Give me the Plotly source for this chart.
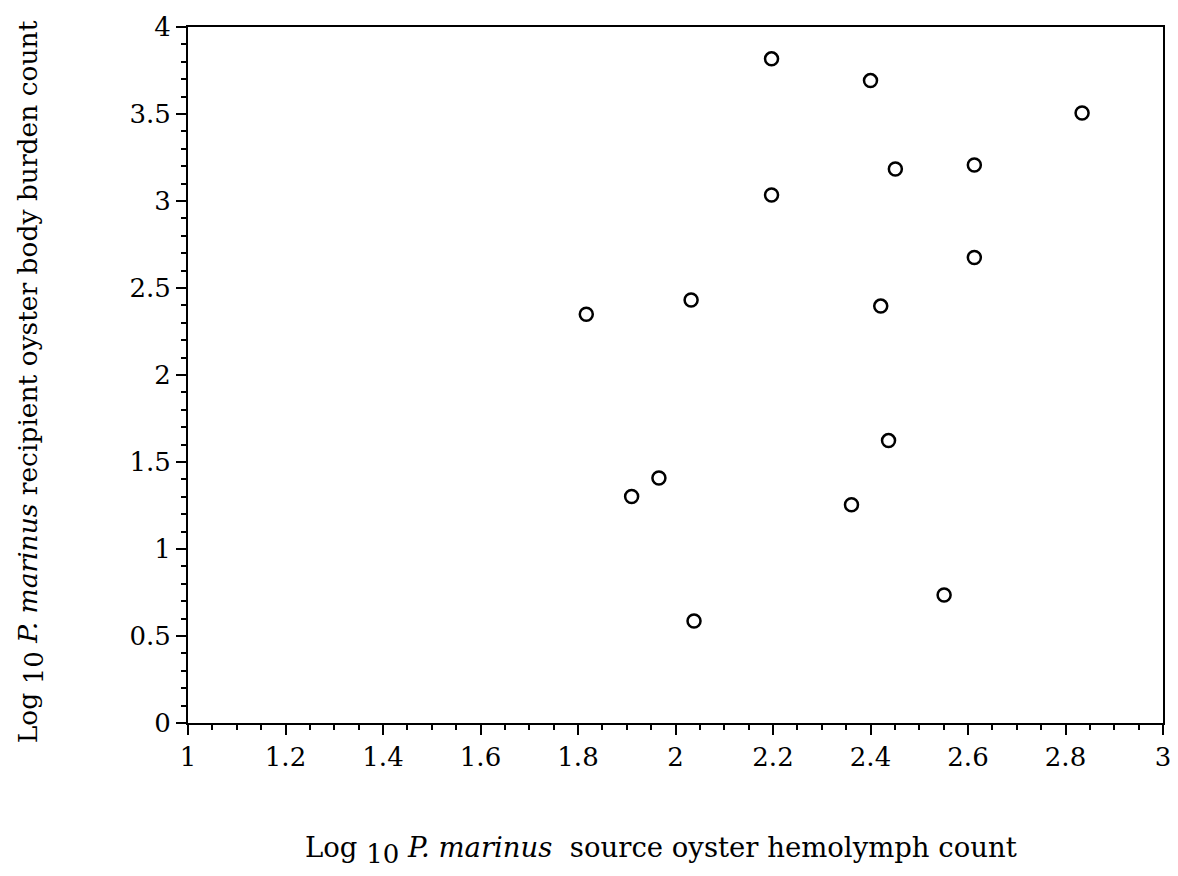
import plotly.graph_objects as go

# Log10 P. marinus counts: source hemolymph (x) vs recipient body burden (y)
source_hemolymph = [2.197, 2.400, 2.834, 2.451, 2.613, 2.197, 2.613, 2.032,
                    2.421, 1.817, 2.437, 1.966, 1.910, 2.361, 2.551, 2.038]
recipient_burden = [3.817, 3.692, 3.506, 3.184, 3.207, 3.034, 2.675, 2.431,
                    2.396, 2.349, 1.623, 1.408, 1.302, 1.254, 0.736, 0.586]

x_ticks = [1, 1.2, 1.4, 1.6, 1.8, 2, 2.2, 2.4, 2.6, 2.8, 3]
x_tick_text = ["1", "1.2", "1.4", "1.6", "1.8", "2", "2.2", "2.4", "2.6", "2.8", "3"]
y_ticks = [0, 0.5, 1, 1.5, 2, 2.5, 3, 3.5, 4]
y_tick_text = ["0", "0.5", "1", "1.5", "2", "2.5", "3", "3.5", "4"]

FONT = "DejaVu Serif"

# plot-area edges in pixels, used to place the axis titles
L, R, T, B = 188, 1171, 27, 723

fig = go.Figure()
fig.add_trace(go.Scatter(
    x=source_hemolymph, y=recipient_burden, mode="markers",
    marker=dict(symbol="circle-open", size=13, color="black",
                line=dict(color="black", width=2.5)),
    showlegend=False, cliponaxis=False,
))

axis_common = dict(
    showline=True, linecolor="black", linewidth=2, mirror=True,
    showgrid=False, zeroline=False, ticks="outside", tickcolor="black",
    ticklen=10, tickwidth=1.5,
    tickfont=dict(family=FONT, size=26, color="black"),
)

fig.update_xaxes(
    range=[1, 3], tickmode="array", tickvals=x_ticks, ticktext=x_tick_text,
    minor=dict(dtick=0.05, ticks="outside", ticklen=5, tickcolor="black",
               tickwidth=1.5, showgrid=False),
    **axis_common,
)
fig.update_yaxes(
    range=[0, 4], tickmode="array", tickvals=y_ticks, ticktext=y_tick_text,
    minor=dict(dtick=0.1, ticks="outside", ticklen=5, tickcolor="black",
               tickwidth=1.5, showgrid=False),
    **axis_common,
)

SUB = "<sub><span style='font-size:26px'>10</span></sub>"

fig.add_annotation(
    text=f"Log {SUB} <i>P. marinus</i>  source oyster hemolymph count",
    xref="paper", yref="paper",
    x=(665 - L) / (R - L), y=(B - 850) / (B - T),
    xanchor="center", yanchor="middle", showarrow=False,
    font=dict(family=FONT, size=27.5, color="black"),
)

fig.add_annotation(
    text=f"Log {SUB} <i>P. marinus</i> recipient oyster body burden count",
    xref="paper", yref="paper",
    x=(30 - L) / (R - L), y=(B - 382) / (B - T),
    xanchor="center", yanchor="middle", textangle=-90, showarrow=False,
    font=dict(family=FONT, size=26.5, color="black"),
)

fig.update_layout(
    width=1178, height=876,
    margin=dict(l=L, r=1178 - R, t=T, b=876 - B),
    plot_bgcolor="white", paper_bgcolor="white",
)

fig.write_html("out.html")
